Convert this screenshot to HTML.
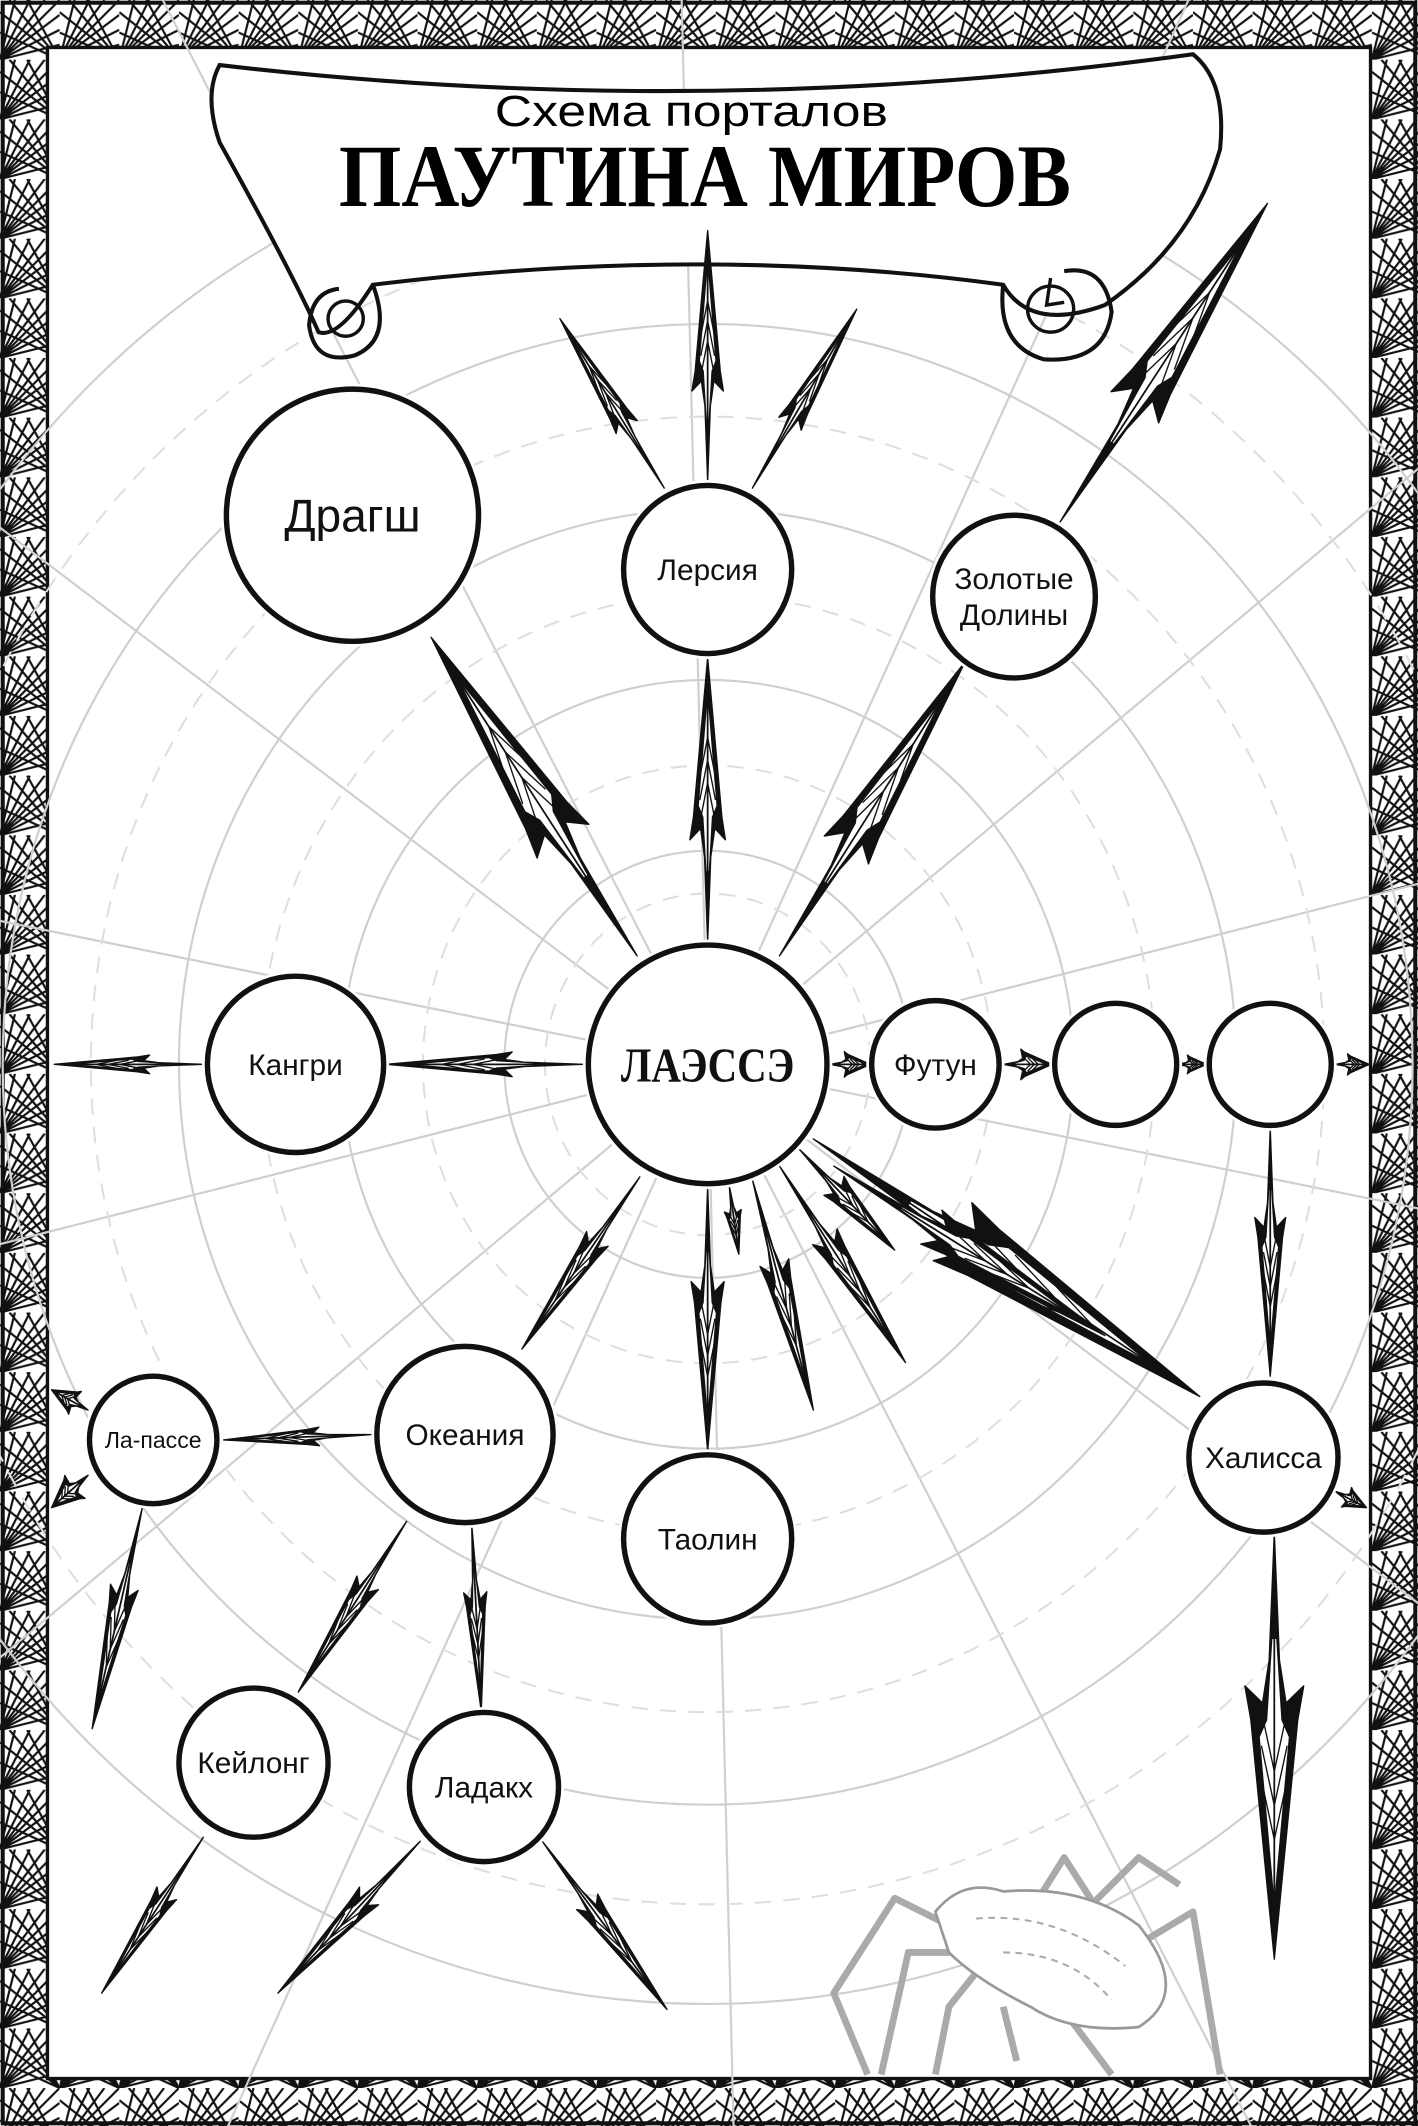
<!DOCTYPE html>
<html><head><meta charset="utf-8">
<style>
html,body{margin:0;padding:0;background:#fff;overflow:hidden;width:1418px;height:2126px;}
svg{display:block;}
text{font-family:"Liberation Sans",sans-serif;}
</style></head>
<body>
<svg id="s" width="1418" height="2126" viewBox="0 0 1046 1568" preserveAspectRatio="none" xmlns="http://www.w3.org/2000/svg">
<defs>
<pattern id="fan" width="44" height="44" patternUnits="userSpaceOnUse">
<rect width="44" height="44" fill="#fff"/>
<g stroke="#111" stroke-width="1.6">
<path d="M0 44L44 0M0 44L11 0M0 44L22 0M0 44L33 0M0 44L44 11M0 44L44 22M0 44L44 33M44 44L0 9M44 44L7 0M44 44L0 24M44 44L20 0"/>
</g>
</pattern>
</defs>
<rect x="0" y="0" width="1046" height="1568" fill="url(#fan)"/>
<rect x="35" y="35" width="976" height="1498" fill="#fff" stroke="#111" stroke-width="2.5"/>
<rect x="2" y="2" width="1042" height="1564" fill="none" stroke="#111" stroke-width="3"/>
<g id="web" fill="none" stroke="#cfcfcf" stroke-width="1.6"></g>
<g id="webd" fill="none" stroke="#dedede" stroke-width="1.5" stroke-dasharray="12 9"></g>
<!-- scroll -->
<path d="M162 48 Q520 90 880 40 Q905 60 900 110 Q880 180 815 225 Q760 245 740 210 Q520 180 275 210 Q250 250 235 245 Q215 200 162 105 Q150 70 162 48 Z" fill="#fff" stroke="#111" stroke-width="3"/>
<path d="M275 210 Q290 250 262 262 Q232 270 228 240 Q230 215 250 213" fill="none" stroke="#111" stroke-width="3"/>
<circle cx="255" cy="235" r="13" fill="none" stroke="#111" stroke-width="2.5"/>
<path d="M740 210 Q735 255 770 265 Q815 268 820 230 Q815 195 785 200" fill="none" stroke="#111" stroke-width="3"/>
<circle cx="775" cy="228" r="17" fill="none" stroke="#111" stroke-width="2.5"/>
<path d="M775 205 L772 225 L785 223" fill="none" stroke="#111" stroke-width="2.5"/>
<text x="510" y="93" text-anchor="middle" font-size="32" textLength="290" lengthAdjust="spacingAndGlyphs">Схема порталов</text>
<text x="520" y="152" text-anchor="middle" font-size="66" font-weight="bold" textLength="540" lengthAdjust="spacingAndGlyphs" style="font-family:'Liberation Serif',serif">ПАУТИНА МИРОВ</text>
<g id="arrows"></g>
<g id="nodes"></g>
<!-- spider -->
<g fill="none" stroke="#aaa" stroke-width="5" stroke-linejoin="round">
<path d="M700 1420 L660 1400 L615 1470 L640 1530"/>
<path d="M705 1440 L670 1440 L650 1530"/>
<path d="M720 1455 L700 1480 L690 1530"/>
<path d="M760 1410 L785 1370 L830 1440 L880 1410 L900 1530"/>
<path d="M790 1420 L840 1370 L870 1390"/>
<path d="M760 1470 L790 1490 L820 1530"/>
<path d="M740 1480 L750 1520"/>
</g>
<path d="M690 1410 Q710 1385 740 1395 Q800 1390 840 1420 Q880 1470 840 1495 Q790 1500 760 1480 Q720 1460 700 1440 Z" fill="#fff" stroke="#999" stroke-width="2"/>
<path d="M720 1415 Q780 1410 830 1450 M740 1440 Q790 1440 820 1475" fill="none" stroke="#aaa" stroke-width="1.5" stroke-dasharray="5 4"/>
</svg>
<script>
var NS="http://www.w3.org/2000/svg";
function el(p,t,a,txt){var e=document.createElementNS(NS,t);for(var k in a)e.setAttribute(k,a[k]);if(txt)e.textContent=txt;document.getElementById(p).appendChild(e);return e;}
var cx=522,cy=785;
[150,270,390,520,660].forEach(function(r){el("web","ellipse",{cx:cx,cy:cy,rx:r,ry:r*1.05});});
[120,210,330,455,590].forEach(function(r){el("webd","ellipse",{cx:cx,cy:cy,rx:r,ry:r*1.05});});
for(var i=0;i<14;i++){var a=i*Math.PI*2/14+0.2;el("web","line",{x1:cx+Math.cos(a)*90,y1:cy+Math.sin(a)*90,x2:cx+Math.cos(a)*1100,y2:cy+Math.sin(a)*1100});}
function arrow(x1,y1,x2,y2,wf){
 var dx=x2-x1,dy=y2-y1,L=Math.sqrt(dx*dx+dy*dy),ux=dx/L,uy=dy/L,px=-uy,py=ux;
 var w=Math.max(5,L*(wf||0.05));
 function P(t,s){return (x2-ux*L*t+px*w*s).toFixed(1)+","+(y2-uy*L*t+py*w*s).toFixed(1);}
 var outer=[P(0,0),P(0.56,1),P(0.64,1.25),P(0.6,0.5),P(0.7,0.22),P(1,0),P(0.7,-0.22),P(0.6,-0.5),P(0.64,-1.25),P(0.56,-1)].join(" ");
 el("arrows","polygon",{points:outer,fill:"#111","stroke":"#111","stroke-width":1,"stroke-linejoin":"round"});
 var inner=[P(0.14,0),P(0.52,0.62),P(0.56,0.3),P(0.75,0.08),P(0.75,-0.08),P(0.56,-0.3),P(0.52,-0.62)].join(" ");
 el("arrows","polygon",{points:inner,fill:"#fff"});
 el("arrows","polyline",{points:[P(0.12,0),P(0.95,0)].join(" "),stroke:"#111","stroke-width":1.3,fill:"none"});
 [0.28,0.36,0.44].forEach(function(t){
  el("arrows","polyline",{points:[P(t+0.14,0.55),P(t,0),P(t+0.14,-0.55)].join(" "),stroke:"#111","stroke-width":1,fill:"none"});
 });
}
var A=[
[470,705,318,470,0.065],[522,695,522,485],[575,705,712,488,0.06],
[522,355,522,170],[490,360,413,235],[555,360,632,228],[782,385,935,150,0.06],
[430,785,285,785],[150,785,40,785],
[612,785,642,785,0.25],[740,785,776,785,0.25],[868,785,890,785,0.25],[985,785,1010,785,0.25],
[937,832,937,1015],[600,840,885,1030,0.06],[615,860,815,985],
[522,875,522,1070],[538,875,545,925,0.1],[555,870,600,1040],[575,860,668,1005],[590,848,660,922,0.08],
[472,868,385,995],[275,1058,165,1062],[65,1040,38,1025,0.25],[65,1088,38,1112,0.25],
[105,1112,68,1275],[300,1122,220,1248],[348,1125,355,1262],
[150,1355,75,1470],[310,1358,205,1470],[400,1358,492,1482],
[985,1100,1008,1112,0.25],[940,1130,940,1445,0.055]
];
A.forEach(function(a){arrow(a[0],a[1],a[2],a[3],a[4]);});
var N=[[260,380,93,"Драгш",34],[522,420,62,"Лерсия",22],[748,440,60,"Золотые|Долины",22],[522,785,88,"ЛАЭССЭ",36],
[218,785,65,"Кангри",22],[690,785,47,"Футун",22],[823,785,45,"",0],[937,785,45,"",0],[932,1075,55,"Халисса",22],
[343,1058,65,"Океания",22],[113,1062,47,"Ла-пассе",17],[522,1135,62,"Таолин",22],[187,1300,55,"Кейлонг",22],[357,1318,55,"Ладакх",22]];
N.forEach(function(n){
 el("nodes","circle",{cx:n[0],cy:n[1],r:n[2]+4,fill:"#fff",stroke:"none"});
 el("nodes","circle",{cx:n[0],cy:n[1],r:n[2],fill:"#fff",stroke:"#111","stroke-width":4});
 if(n[3]){var ls=n[3].split("|");ls.forEach(function(t,i){
  var y=n[1]+n[4]*0.35+(i-(ls.length-1)/2)*n[4]*1.2;
  var e=el("nodes","text",{x:n[0],y:y,"text-anchor":"middle","font-size":n[4],fill:"#111"},t);
  if(t=="ЛАЭССЭ"){e.setAttribute("style","font-family:'Liberation Serif',serif;font-weight:bold");e.setAttribute("textLength","128");e.setAttribute("lengthAdjust","spacingAndGlyphs");}
 });}
});
</script>
</body></html>
